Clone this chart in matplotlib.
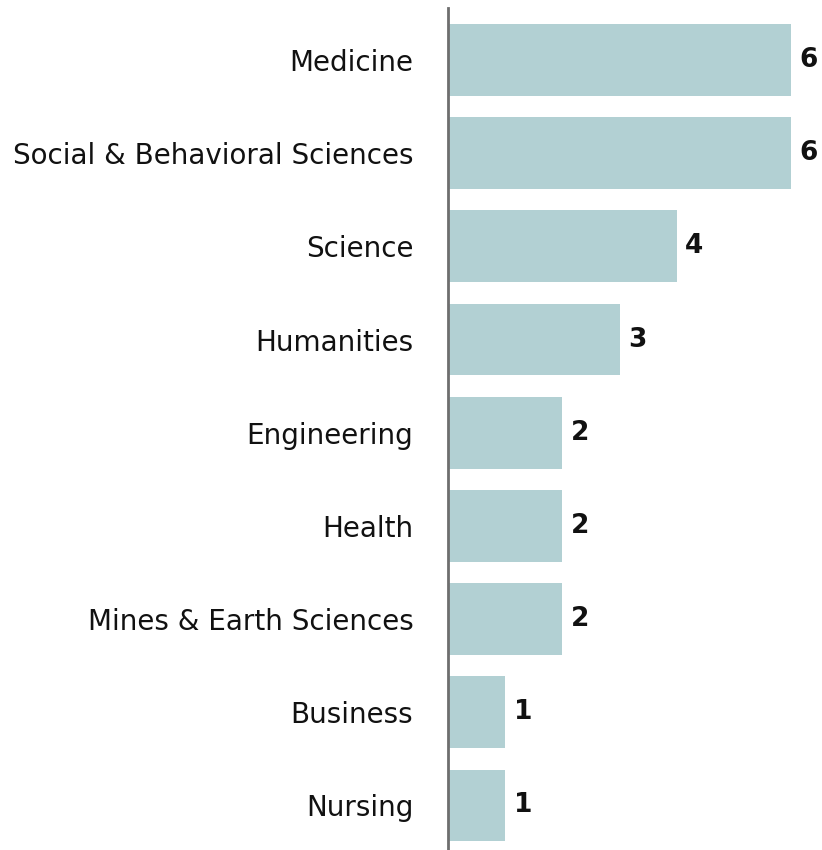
import matplotlib
matplotlib.use("Agg")
import matplotlib.pyplot as plt

categories = ["Medicine", "Social & Behavioral Sciences", "Science", "Humanities",
              "Engineering", "Health", "Mines & Earth Sciences", "Business", "Nursing"]
values = [6, 6, 4, 3, 2, 2, 2, 1, 1]

plt.rcParams['font.family'] = ['DejaVu Sans']

fig = plt.figure(figsize=(8.22, 8.5), dpi=100)
ax = fig.add_axes([448/822, 0, 1 - 448/822, 1 - 8/850])

y = list(range(len(categories)))
ax.barh(y, values, height=0.77, color="#b2d0d3", left=0)
ax.set_xlim(0, 6.54)
ax.set_ylim(len(categories) - 1 + 0.478, -0.558)

for yi, v in zip(y, values):
    ax.text(v + 0.15, yi, str(v), va="center", ha="left", fontsize=19,
            fontweight="bold", color="#111111")

ax.set_yticks(y)
ax.set_yticklabels(categories, fontsize=20, color="#111111")
ax.tick_params(axis="y", length=0, pad=25)
ax.set_xticks([])
for s in ["top", "right", "bottom"]:
    ax.spines[s].set_visible(False)
ax.spines["left"].set_color("#6e6e6e")
ax.spines["left"].set_linewidth(2)

fig.savefig("out.png", dpi=100, facecolor="white")
